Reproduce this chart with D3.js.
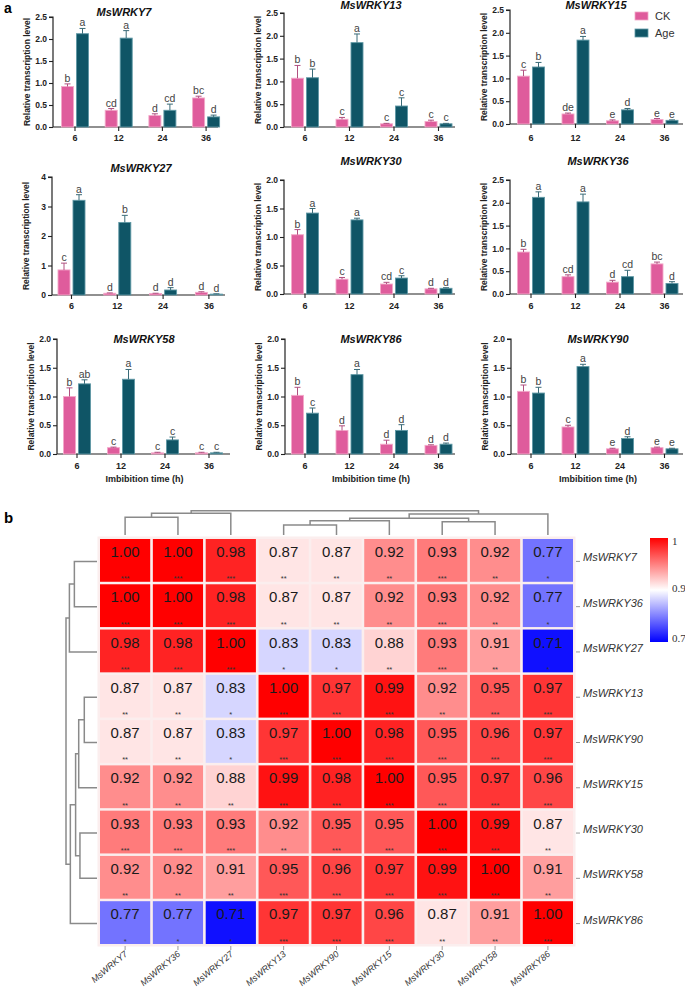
<!DOCTYPE html>
<html><head><meta charset="utf-8">
<script src="https://cdn.jsdelivr.net/npm/d3@7"></script>
<style>
html,body{margin:0;padding:0;background:#fff;}
svg{display:block;font-family:Arial,'Liberation Sans',sans-serif;}
</style></head>
<body>
<svg id="chart" width="685" height="988"></svg>
<script>
// ---------------- DATA ----------------
const genes = ["MsWRKY7","MsWRKY13","MsWRKY15","MsWRKY27","MsWRKY30","MsWRKY36","MsWRKY58","MsWRKY86","MsWRKY90"];
const times = ["6","12","24","36"];
const groups = ["CK","Age"];
const ckMeans = [
  [0.92,0.38,0.26,0.66],[1.07,0.17,0.07,0.12],[1.05,0.22,0.07,0.10],
  [0.85,0.06,0.05,0.09],[1.04,0.26,0.175,0.09],[0.92,0.38,0.26,0.66],
  [1.00,0.11,0.02,0.02],[1.02,0.41,0.17,0.15],[1.09,0.47,0.09,0.11]];
const ckErr = [
  [0.06,0.04,0.04,0.04],[0.28,0.04,0.01,0.03],[0.13,0.02,0.02,0.02],
  [0.23,0.01,0.01,0.02],[0.09,0.03,0.03,0.01],[0.06,0.04,0.04,0.04],
  [0.15,0.01,0.01,0.01],[0.14,0.08,0.07,0.01],[0.11,0.03,0.01,0.01]];
const ageMeans = [
  [2.12,2.02,0.38,0.23],[1.08,1.85,0.46,0.07],[1.25,1.84,0.31,0.08],
  [3.21,2.46,0.17,0.03],[1.42,1.30,0.28,0.10],[2.12,2.02,0.38,0.23],
  [1.22,1.30,0.245,0.02],[0.71,1.38,0.41,0.17],[1.06,1.52,0.27,0.09]];
const ageErr = [
  [0.12,0.17,0.14,0.04],[0.19,0.19,0.18,0.01],[0.10,0.08,0.03,0.01],
  [0.19,0.24,0.08,0.01],[0.08,0.03,0.04,0.01],[0.12,0.17,0.14,0.04],
  [0.07,0.17,0.05,0.01],[0.09,0.09,0.10,0.02],[0.10,0.04,0.03,0.01]];
const ckLetters = [
  ["b","cd","d","bc"],["b","c","c","c"],["c","de","e","e"],
  ["c","d","d","d"],["b","c","cd","d"],["b","cd","d","bc"],
  ["b","c","c","c"],["b","d","d","d"],["b","c","e","e"]];
const ageLetters = [
  ["a","a","cd","d"],["b","a","c","c"],["b","a","d","e"],
  ["a","b","d","d"],["a","a","c","d"],["a","a","cd","d"],
  ["ab","a","c","c"],["c","a","d","d"],["b","a","d","e"]];
const yMax = [2.5,2.5,2.5,4,2,2.5,2,2,2];
const yStep = [0.5,0.5,0.5,1,0.5,0.5,0.5,0.5,0.5];

// heatmap data
const hmOrder = ["MsWRKY7","MsWRKY36","MsWRKY27","MsWRKY13","MsWRKY90","MsWRKY15","MsWRKY30","MsWRKY58","MsWRKY86"];
const corrValues = [
  [1.00,1.00,0.98,0.87,0.87,0.92,0.93,0.92,0.77],
  [1.00,1.00,0.98,0.87,0.87,0.92,0.93,0.92,0.77],
  [0.98,0.98,1.00,0.83,0.83,0.88,0.93,0.91,0.71],
  [0.87,0.87,0.83,1.00,0.97,0.99,0.92,0.95,0.97],
  [0.87,0.87,0.83,0.97,1.00,0.98,0.95,0.96,0.97],
  [0.92,0.92,0.88,0.99,0.98,1.00,0.95,0.97,0.96],
  [0.93,0.93,0.93,0.92,0.95,0.95,1.00,0.99,0.87],
  [0.92,0.92,0.91,0.95,0.96,0.97,0.99,1.00,0.91],
  [0.77,0.77,0.71,0.97,0.97,0.96,0.87,0.91,1.00]];
const corrStars = [
  ["***","***","***","**","**","**","***","**","*"],
  ["***","***","***","**","**","**","***","**","*"],
  ["***","***","***","*","*","**","***","**","*"],
  ["**","**","*","***","***","***","**","***","***"],
  ["**","**","*","***","***","***","***","***","***"],
  ["**","**","**","***","***","***","***","***","***"],
  ["***","***","***","**","***","***","***","***","**"],
  ["**","**","**","***","***","***","***","***","**"],
  ["*","*","*","***","***","***","**","**","***"]];
// dendrogram merges: [node, child1, child2, height]
const merges = [
  ["A","MsWRKY7","MsWRKY36",0.73],
  ["B","A","MsWRKY27",0.89],
  ["C","MsWRKY13","MsWRKY90",0.41],
  ["D","C","MsWRKY15",0.59],
  ["E","MsWRKY30","MsWRKY58",0.55],
  ["F","D","E",0.69],
  ["G","F","MsWRKY86",0.86],
  ["R","B","G",1.0]];
const legendTicks = [1,0.9,0.7];
const legendTickLabels = ["1","0.9","0.7"];

// ---------------- LAYOUT ----------------
const layout = [
  {ax:53, top:17, base:127, end:218, c0:75,  step:43.7, tx:124, ty:16, lab:141},
  {ax:284,top:13, base:127, end:455, c0:305, step:44.5, tx:371, ty:9,  lab:141},
  {ax:510,top:10, base:124, end:683, c0:531, step:44.5, tx:596, ty:9,  lab:141},
  {ax:52, top:177,base:295, end:225, c0:71.5,step:45.8, tx:141, ty:172,lab:309},
  {ax:284,top:180,base:294, end:455, c0:305, step:44.5, tx:371, ty:165,lab:309},
  {ax:510,top:180,base:294, end:683, c0:531, step:44.5, tx:598, ty:165,lab:309},
  {ax:57, top:339,base:454, end:230, c0:77,  step:44,   tx:144, ty:343,lab:469},
  {ax:285,top:339,base:454, end:455, c0:305, step:44.5, tx:371, ty:343,lab:469},
  {ax:511,top:339,base:454, end:683, c0:531, step:44.5, tx:598, ty:343,lab:469}];

const PINK = "#df5c9c", PINK_S = "#f3a9c9";
const TEAL = "#0f5566", TEAL_S = "#5f98a5";

const svg = d3.select("#chart");

svg.append("text").attr("x",4).attr("y",13).attr("font-size",14).attr("font-weight","bold").text("a");
svg.append("text").attr("x",4).attr("y",523).attr("font-size",15).attr("font-weight","bold").text("b");

genes.forEach((g,i)=>{
  const L = layout[i];
  const gp = svg.append("g");
  const y = d3.scaleLinear().domain([0,yMax[i]]).range([L.base,L.top]);
  const x = d3.scalePoint().domain(times).range([L.c0, L.c0+3*L.step]);
  const ticks = d3.range(0, yMax[i]+1e-9, yStep[i]);
  const fmt = yStep[i] >= 1 ? d3.format("d") : d3.format(".1f");
  // y axis
  const yAxis = d3.axisLeft(y).tickValues(ticks).tickFormat(fmt).tickSize(4).tickPadding(2);
  const ya = gp.append("g").attr("transform",`translate(${L.ax},0)`).call(yAxis);
  ya.select(".domain").attr("stroke","#222").attr("stroke-width",1.2).attr("d",`M-4,${L.top}H0V${L.base}`);
  ya.selectAll(".tick line").attr("stroke","#222").attr("stroke-width",1.1);
  ya.selectAll(".tick text").attr("font-size",8.5).attr("font-weight","bold").attr("fill","#222")
    .attr("font-family","Arial,'Liberation Sans',sans-serif");
  // x axis
  const xa = gp.append("g").attr("transform",`translate(0,${L.base})`);
  xa.append("line").attr("x1",L.ax).attr("x2",L.end).attr("y1",0).attr("y2",0).attr("stroke","#222").attr("stroke-width",1.2);
  times.forEach(t=>{
    xa.append("line").attr("x1",x(t)).attr("x2",x(t)).attr("y1",0).attr("y2",4).attr("stroke","#222").attr("stroke-width",1.1);
    gp.append("text").attr("x",x(t)).attr("y",L.lab).attr("text-anchor","middle").attr("font-size",9)
      .attr("font-weight","bold").attr("fill","#222").text(t);
  });
  // bars
  times.forEach((t,j)=>{
    const sub = d3.scaleBand().domain(groups).range([x(t)-13.5, x(t)+13.5]).paddingInner(0.2);
    const recs = [
      {grp:"CK", m:ckMeans[i][j], e:ckErr[i][j], l:ckLetters[i][j], f:PINK, s:PINK_S, ec:"#b05080"},
      {grp:"Age",m:ageMeans[i][j],e:ageErr[i][j],l:ageLetters[i][j],f:TEAL, s:TEAL_S, ec:"#3a6b78"}];
    recs.forEach(r=>{
      const bx = sub(r.grp), bw = sub.bandwidth(), cx = bx+bw/2;
      gp.append("rect").attr("x",bx).attr("y",y(r.m)).attr("width",bw).attr("height",L.base-y(r.m))
        .attr("fill",r.f).attr("stroke",r.s).attr("stroke-width",0.9);
      const et = y(r.m+r.e);
      gp.append("line").attr("x1",cx).attr("x2",cx).attr("y1",y(r.m)).attr("y2",et).attr("stroke",r.ec).attr("stroke-width",1);
      gp.append("line").attr("x1",cx-3).attr("x2",cx+3).attr("y1",et).attr("y2",et).attr("stroke",r.ec).attr("stroke-width",1);
      gp.append("text").attr("x",cx).attr("y",et-2).attr("text-anchor","middle").attr("font-size",10.5)
        .attr("fill","#444").text(r.l);
    });
  });
  // title
  gp.append("text").attr("x",L.tx).attr("y",L.ty).attr("text-anchor","middle").attr("font-size",11)
    .attr("font-weight","bold").attr("font-style","italic").attr("fill","#111").text(g);
  // y title
  gp.append("text").attr("transform",`translate(${L.ax-23},${(L.top+L.base)/2}) rotate(-90)`)
    .attr("text-anchor","middle").attr("font-size",8.5).attr("font-weight","bold").attr("fill","#222")
    .text("Relative transcription level");
  if (i >= 6) {
    gp.append("text").attr("x",(L.ax+L.end)/2+1).attr("y",482).attr("text-anchor","middle").attr("font-size",9)
      .attr("font-weight","bold").attr("fill","#222").text("Imbibition time (h)");
  }
});

// legend (bar charts)
const lg = svg.append("g");
[["CK",PINK,PINK_S,16],["Age",TEAL,TEAL_S,33]].forEach(([name,f,s,cy])=>{
  lg.append("rect").attr("x",635).attr("y",cy-4).attr("width",13).attr("height",8).attr("fill",f).attr("stroke",s).attr("stroke-width",0.8);
  lg.append("text").attr("x",655).attr("y",cy+4).attr("font-size",11).attr("fill","#333").text(name);
});

// ---------------- HEATMAP ----------------
const hx = d3.scaleBand().domain(hmOrder).range([100,573]).paddingInner(0.05);
const hy = d3.scaleBand().domain(hmOrder).range([539,944]).paddingInner(0.055);
const color = d3.scaleLinear().domain([0.7,0.855,1]).range(["#0000ff","#ffffff","#ff0000"]);
const hm = svg.append("g");
hm.append("rect").attr("x",97.5).attr("y",536.5).attr("width",478).attr("height",410).attr("fill","#fbeeee");
hmOrder.forEach((r,ri)=>{
  hmOrder.forEach((c,ci)=>{
    const v = corrValues[ri][ci];
    hm.append("rect").attr("x",hx(c)).attr("y",hy(r)).attr("width",hx.bandwidth()).attr("height",hy.bandwidth())
      .attr("fill",color(v));
    hm.append("text").attr("x",hx(c)+hx.bandwidth()/2).attr("y",hy(r)+18).attr("text-anchor","middle")
      .attr("font-size",15).attr("fill","#1a1a1a").text(v.toFixed(2));
    hm.append("text").attr("x",hx(c)+hx.bandwidth()/2).attr("y",hy(r)+hy.bandwidth()-0.5).attr("text-anchor","middle")
      .attr("font-size",7.5).attr("fill","#333").text(corrStars[ri][ci]);
  });
});
// row labels
hmOrder.forEach(r=>{
  const cy = hy(r)+hy.bandwidth()/2;
  hm.append("line").attr("x1",576).attr("x2",580).attr("y1",cy+1).attr("y2",cy+1).attr("stroke","#999");
  hm.append("text").attr("x",583).attr("y",cy+1).attr("font-size",11).attr("font-style","italic").attr("fill","#333").text(r);
});
// column labels
hmOrder.forEach(c=>{
  const cx = hx(c)+hx.bandwidth()/2;
  hm.append("line").attr("x1",cx).attr("x2",cx).attr("y1",946).attr("y2",950).attr("stroke","#999");
  hm.append("text").attr("transform",`translate(${cx+3},955) rotate(-40)`).attr("text-anchor","end")
    .attr("font-size",9).attr("font-style","italic").attr("fill","#333").text(c);
});

// dendrograms
function drawDendro(posOf, hScale, orient){
  const pos = {}, ht = {};
  hmOrder.forEach(n=>{pos[n]=posOf(n); ht[n]=0;});
  const g = svg.append("g").attr("stroke","#8a8a8a").attr("stroke-width",1.5).attr("fill","none");
  merges.forEach(([n,a,b,h])=>{
    pos[n] = (pos[a]+pos[b])/2; ht[n]=h;
    const hh = hScale(h);
    if (orient==="top") {
      g.append("path").attr("d",`M${pos[a]},${hScale(ht[a])}V${hh}H${pos[b]}V${hScale(ht[b])}`);
    } else {
      g.append("path").attr("d",`M${hScale(ht[a])},${pos[a]}H${hh}V${pos[b]}H${hScale(ht[b])}`);
    }
  });
}
drawDendro(n=>hx(n)+hx.bandwidth()/2, d3.scaleLinear().domain([0,1]).range([535,510.7]), "top");
drawDendro(n=>hy(n)+hy.bandwidth()/2+1, d3.scaleLinear().domain([0,1]).range([97,66]), "left");

// colour legend
const defs = svg.append("defs");
const grad = defs.append("linearGradient").attr("id","cg").attr("x1",0).attr("y1",0).attr("x2",0).attr("y2",1);
grad.append("stop").attr("offset","0%").attr("stop-color",color(1));
grad.append("stop").attr("offset","50%").attr("stop-color",color(0.855));
grad.append("stop").attr("offset","100%").attr("stop-color",color(0.7));
svg.append("rect").attr("x",650).attr("y",538).attr("width",18).attr("height",104).attr("fill","url(#cg)");
const ly = d3.scaleLinear().domain([0.7,0.9,1]).range([638,588,541]);
legendTicks.forEach((t,k)=>{
  svg.append("text").attr("x",672).attr("y",ly(t)+4).attr("font-size",11)
    .attr("font-family","'Liberation Serif','Times New Roman',serif").attr("fill","#333").text(legendTickLabels[k]);
});
</script>
</body></html>
